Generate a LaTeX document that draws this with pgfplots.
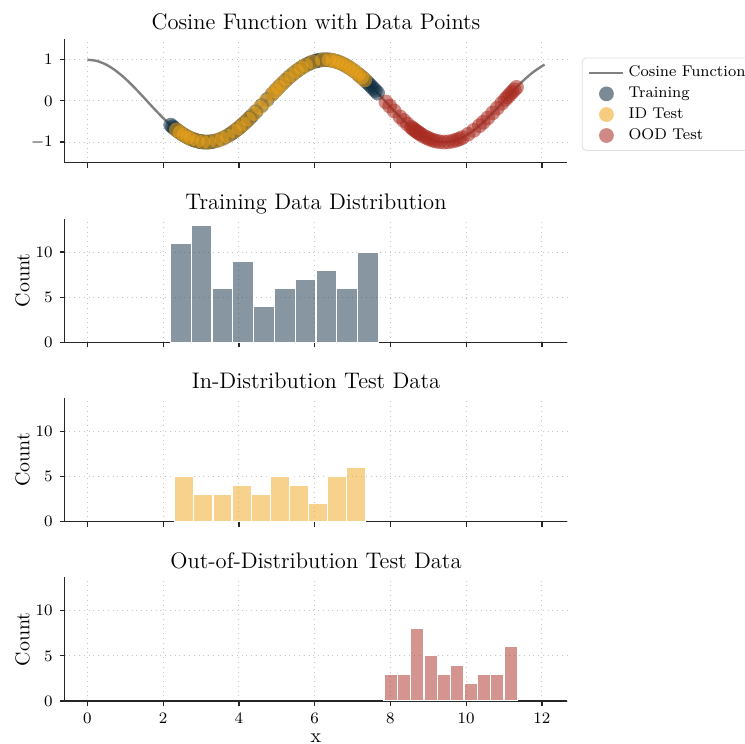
\documentclass[border=0pt]{standalone}
\usepackage{pgfplots}
\pgfplotsset{compat=1.18}
\definecolor{trainc}{HTML}{0F2D41}
\definecolor{idc}{HTML}{EFA519}
\definecolor{oodc}{HTML}{A92B21}
\definecolor{spine}{HTML}{262626}
\pgfplotsset{
 base/.style={
  scale only axis, width=251.3bp, height=61.8bp, anchor=south west,
  xmin=-0.6, xmax=12.67,
  axis x line*=bottom, axis y line*=left,
  axis line style={spine, line width=0.6bp},
  tick align=outside, major tick length=2.5bp,
  tick style={spine, line width=0.6bp},
  xtick={0,2,...,12},
  grid=major, major grid style={gray!45, dotted, line width=0.5bp},
  tick label style={font=\fontsize{8}{9}\selectfont},
  every axis title shift=0pt,
  title style={font=\fontsize{11.3}{13}\selectfont, at={(axis description cs:0.5,1)}, anchor=base, yshift=4.6bp},
  ylabel style={font=\fontsize{10}{12}\selectfont, at={(axis description cs:-0.0836,0.5)}, anchor=center},
  xlabel style={font=\fontsize{10}{12}\selectfont, at={(axis description cs:0.5,0)}, anchor=base, yshift=-20.5bp},
 },
 nolab/.style={xticklabels={,,,,,,}},
 hist/.style={base, ymin=0, ymax=13.7, ytick={0,5,10}, ylabel={Count}},
 pts/.style={only marks, mark=*, mark size=3.7bp, mark options={draw opacity=0, fill opacity=0.55}},
}
\begin{document}
\begin{tikzpicture}
\useasboundingbox (0,0) rectangle (372.5bp,372bp);
% ---------- Panel 1 ----------
\begin{axis}[base, nolab, at={(32.35bp,290.65bp)},
  ymin=-1.5, ymax=1.5, ytick={-1,0,1},
  title={Cosine Function with Data Points},
  legend style={at={(axis description cs:1.029,0.85)}, anchor=north west,
    font=\fontsize{7.8}{8.5}\selectfont, draw=gray!25, rounded corners=2bp,
    cells={anchor=west}, row sep=-0.4bp},
  ]
\addlegendimage{gray, line width=1.2bp}
\addlegendentry{Cosine Function}
\addplot[pts, color=trainc] coordinates {
(2.20,-0.5885) (2.25,-0.6282) (2.30,-0.6663) (2.35,-0.7027) (2.40,-0.7374) (2.45,-0.7702)
(2.50,-0.8011) (2.55,-0.8301) (2.60,-0.8569) (2.65,-0.8816) (2.70,-0.9041)
(2.76,-0.9281) (2.80,-0.9422) (2.84,-0.9549) (2.88,-0.9660) (2.92,-0.9756) (2.96,-0.9836)
(3.00,-0.9900) (3.04,-0.9948) (3.08,-0.9981) (3.12,-0.9998) (3.16,-0.9998) (3.20,-0.9983) (3.25,-0.9941)
(3.32,-0.9841) (3.42,-0.9615) (3.52,-0.9293) (3.62,-0.8877) (3.72,-0.8374) (3.80,-0.7910)
(3.86,-0.7528) (3.92,-0.7120) (3.98,-0.6686) (4.04,-0.6230) (4.10,-0.5748) (4.16,-0.5247)
(4.22,-0.4728) (4.28,-0.4190) (4.34,-0.3640)
(4.45,-0.2593) (4.60,-0.1122) (4.75,0.0376) (4.88,0.1666)
(4.98,0.2643) (5.07,0.3500) (5.16,0.4325) (5.25,0.5122) (5.34,0.5874) (5.43,0.6576)
(5.52,0.7226) (5.60,0.7756) (5.68,0.8235) (5.76,0.8662) (5.84,0.9034) (5.92,0.9348) (6.00,0.9602)
(6.06,0.9752) (6.13,0.9883) (6.20,0.9965) (6.27,0.9999) (6.34,0.9984) (6.41,0.9920) (6.48,0.9807) (6.55,0.9646)
(6.62,0.9438) (6.70,0.9144) (6.78,0.8791) (6.86,0.8382) (6.94,0.7920) (7.04,0.7272)
(7.15,0.6472) (7.20,0.6084) (7.25,0.5683) (7.30,0.5261) (7.36,0.4743) (7.42,0.4205)
(7.48,0.3655) (7.54,0.3088) (7.60,0.2513) (7.66,0.1927)
};
\addlegendentry{Training}
\addplot[pts, color=idc] coordinates {
(2.35,-0.7027) (2.45,-0.7702) (2.55,-0.8301) (2.65,-0.8816) (2.75,-0.9243)
(2.90,-0.9710) (3.05,-0.9958) (3.20,-0.9983)
(3.40,-0.9668) (3.55,-0.9178) (3.70,-0.8481)
(3.88,-0.7396) (4.00,-0.6536) (4.12,-0.5590) (4.25,-0.4461)
(4.40,-0.3073) (4.55,-0.1617) (4.70,-0.0124)
(4.87,0.1568) (4.96,0.2450) (5.05,0.3313) (5.15,0.4236) (5.27,0.5291)
(5.40,0.6347) (5.52,0.7226) (5.64,0.8002) (5.76,0.8662)
(5.95,0.9450) (6.20,0.9965)
(6.38,0.9953) (6.48,0.9807) (6.58,0.9563) (6.68,0.9223) (6.78,0.8791)
(6.88,0.8271) (6.97,0.7733) (7.06,0.7131) (7.15,0.6472) (7.24,0.5767) (7.32,0.5092)
};
\addlegendentry{ID Test}
\addplot[pts, color=oodc] coordinates {
(7.88,-0.0260) (7.98,-0.1258) (8.10,-0.2435)
(8.25,-0.3857) (8.35,-0.4753) (8.45,-0.5617)
(8.55,-0.6409) (8.59,-0.6713) (8.63,-0.7004) (8.67,-0.7283) (8.71,-0.7548) (8.75,-0.7807) (8.79,-0.8040) (8.84,-0.8335)
(8.92,-0.8757) (8.98,-0.9026) (9.05,-0.9306) (9.12,-0.9539) (9.20,-0.9748)
(9.30,-0.9922) (9.42,-1.0000) (9.53,-0.9945)
(9.65,-0.9748) (9.74,-0.9507) (9.82,-0.9229) (9.90,-0.8892)
(10.05,-0.8108) (10.20,-0.7143)
(10.35,-0.6016) (10.45,-0.5193) (10.57,-0.4131)
(10.70,-0.2913) (10.82,-0.1748) (10.94,-0.0555)
(11.03,0.0344) (11.09,0.0943) (11.15,0.1537) (11.21,0.2126) (11.27,0.2709) (11.33,0.3284)
};
\addlegendentry{OOD Test}
\addplot[gray, line width=1.2bp, smooth, forget plot] coordinates {
(0,1) (0.25,0.9689) (0.5,0.8776) (0.75,0.7317) (1.0,0.5403) (1.25,0.3153) (1.5,0.0707)
(1.75,-0.1782) (2.0,-0.4161) (2.25,-0.6282) (2.5,-0.8011) (2.75,-0.9243) (3.0,-0.9900)
(3.25,-0.9941) (3.5,-0.9365) (3.75,-0.8206) (4.0,-0.6536) (4.25,-0.4461) (4.5,-0.2108)
(4.75,0.0376) (5.0,0.2837) (5.25,0.5122) (5.5,0.7087) (5.75,0.8612) (6.0,0.9602)
(6.25,0.9995) (6.5,0.9766) (6.75,0.8930) (7.0,0.7539) (7.25,0.5683) (7.5,0.3466)
(7.75,0.1036) (8.0,-0.1455) (8.25,-0.3857) (8.5,-0.6020) (8.75,-0.7807) (9.0,-0.9111)
(9.25,-0.9848) (9.5,-0.9972) (9.75,-0.9476) (10.0,-0.8391) (10.25,-0.6785) (10.5,-0.4755)
(10.75,-0.2433) (11.0,0.0044) (11.25,0.2519) (11.5,0.4846) (11.75,0.6849) (12.0,0.8438) (12.07,0.8793)
};
\end{axis}
% ---------- Panel 2 ----------
\begin{axis}[hist, nolab, at={(32.35bp,200.85bp)}, title={Training Data Distribution}]
\addplot[ybar interval, fill=trainc, fill opacity=0.5, draw=white, line width=0.6bp] coordinates {
(2.190,11) (2.739,13) (3.288,6) (3.837,9) (4.386,4) (4.935,6) (5.484,7) (6.033,8) (6.582,6) (7.131,10) (7.680,0)
};
\end{axis}
% ---------- Panel 3 ----------
\begin{axis}[hist, nolab, at={(32.35bp,111.15bp)}, title={In-Distribution Test Data}]
\addplot[ybar interval, fill=idc, fill opacity=0.5, draw=white, line width=0.6bp] coordinates {
(2.306,5) (2.810,3) (3.315,3) (3.819,4) (4.324,3) (4.828,5) (5.332,4) (5.837,2) (6.341,5) (6.846,6) (7.350,0)
};
\end{axis}
% ---------- Panel 4 ----------
\begin{axis}[hist, at={(32.35bp,21.5bp)}, title={Out-of-Distribution Test Data}, xlabel={x}]
\addplot[ybar interval, fill=oodc, fill opacity=0.5, draw=white, line width=0.6bp] coordinates {
(7.830,3) (8.182,3) (8.534,8) (8.886,5) (9.238,3) (9.590,4) (9.942,2) (10.294,3) (10.646,3) (10.998,6) (11.350,0)
};
\end{axis}
\end{tikzpicture}
\end{document}
